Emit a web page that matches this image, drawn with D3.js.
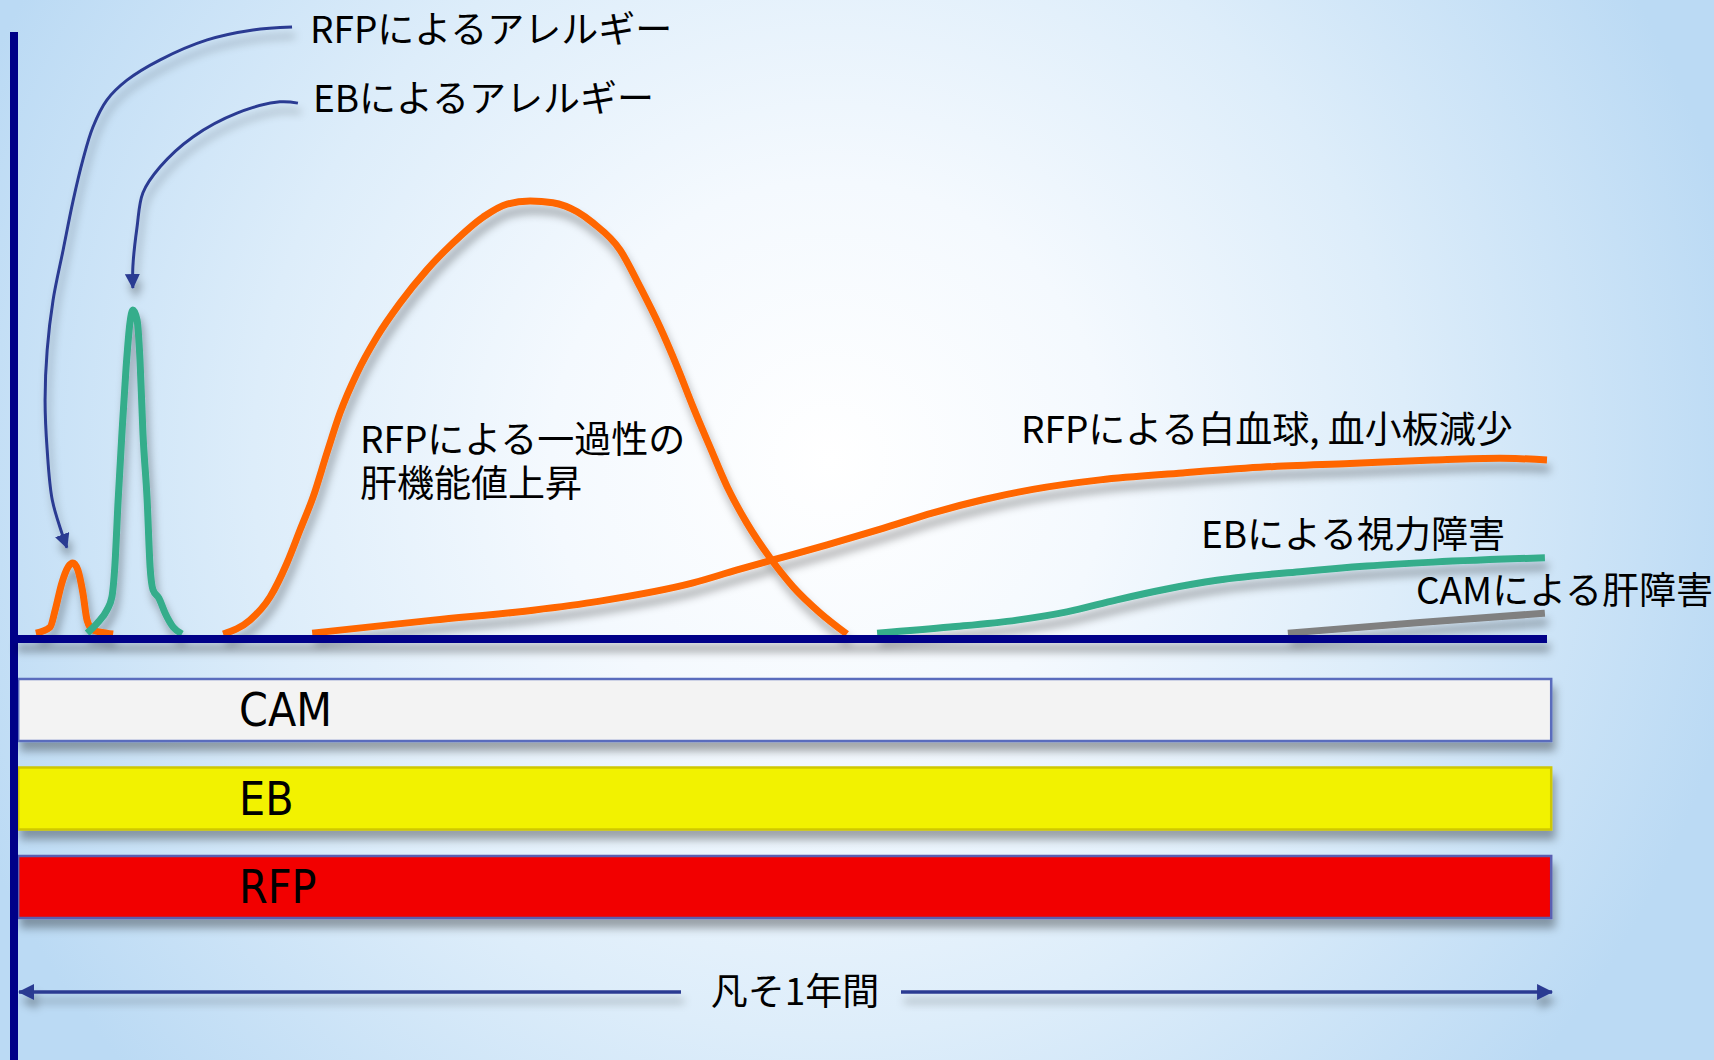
<!DOCTYPE html>
<html><head><meta charset="utf-8">
<script src="https://cdn.jsdelivr.net/npm/d3@7"></script>
<style>html,body{margin:0;padding:0;overflow:hidden;background:#fff}</style>
</head><body>
<svg id="chart" width="1714" height="1060"></svg>
<script>
// ---------------- DATA (time in days, relative intensity 0-100) ----------------
const drugs = ["CAM", "EB", "RFP"];
const treatmentStart = [1, 1, 1];
const treatmentEnd = [366, 366, 366];
const periodLabel = "凡そ1年間";
const periodStart = 1.2, periodEnd = 366.2, periodMid = 185;

const rfpAllergyDays  = [5.2, 8.6, 9.8, 11.4, 12.9, 14.0, 15.2, 16.4, 17.4, 18.8, 22.1, 23.6];
const rfpAllergyLevel = [0.2, 1.6, 5.5, 11.8, 15.5, 16.4, 14.8, 9.5, 3.2, 0.9, 0.2, 0];

const ebAllergyDays  = [17.4, 19.8, 22.1, 23.3, 24.0, 24.8, 25.7, 26.7, 27.6, 28.3, 29.3, 30.0, 30.7, 31.7, 32.4, 33.1, 34.5, 36.0, 37.9, 40.0];
const ebAllergyLevel = [0.2, 2.5, 5.5, 8.5, 15.5, 31.0, 46.4, 61.7, 71.8, 74.8, 72.5, 63.3, 46.4, 31.0, 15.5, 10.2, 8.3, 4.8, 1.6, 0];

const rfpLiverDays  = [49.8, 56.2, 61.0, 65.0, 68.1, 71.2, 74.5, 77.6, 81.7, 86.4, 91.9, 98.3, 104.5, 111.7, 117.4, 122.9, 128.3, 134.1, 137.9, 144.3, 149.1, 153.8, 157.9, 161.7, 165.7, 169.8, 174.5, 180.0, 185.5, 191.9, 198.3];
const rfpLiverLevel = [0, 3.2, 8.6, 16.4, 24.0, 31.6, 41.8, 51.0, 60.3, 68.6, 76.4, 84.1, 90.3, 96.3, 99.3, 100, 99.6, 97.5, 94.9, 88.7, 80.1, 70.9, 61.7, 52.4, 43.2, 34.0, 25.6, 17.6, 10.9, 4.9, 0];

const rfpBloodDays  = [71.0, 99.8, 123.6, 139.5, 161.7, 172.2, 180.7, 193.6, 206.9, 218.8, 230.7, 242.6, 258.6, 278.3, 298.3, 318.1, 337.9, 353.8, 365];
const rfpBloodLevel = [0.2, 3.2, 5.5, 7.6, 11.8, 14.8, 17.1, 20.6, 24.4, 28.0, 31.0, 33.4, 35.6, 37.2, 38.6, 39.4, 40.2, 40.6, 40.2];

const ebVisionDays  = [205.5, 222.9, 238.8, 250.7, 262.6, 274.5, 286.4, 306.2, 322.2, 337.9, 364.5];
const ebVisionLevel = [0.2, 1.6, 3.2, 5.1, 7.9, 10.4, 12.4, 14.4, 15.7, 16.6, 17.6];

const camLiverDays  = [303.3, 334.0, 364.5];
const camLiverLevel = [0.2, 2.6, 4.8];

// annotation leader paths (chart units)
const rfpAllergyLeaderDays  = [66.2, 56.9, 46.0, 34.8, 26.9, 22.1, 18.8, 16.4, 14.1, 11.7, 9.3, 7.9, 7.4, 7.9, 9.1, 11.4, 12.6];
const rfpAllergyLeaderLevel = [140.2, 139.5, 137.2, 132.6, 127.9, 123.3, 117.1, 109.5, 100.2, 88.7, 77.1, 65.6, 54.0, 42.5, 31.0, 23.3, 19.9];
const ebAllergyLeaderDays  = [67.6, 63.3, 53.1, 42.6, 34.8, 30.7, 29.3, 28.3, 28.3];
const ebAllergyLeaderLevel = [122.6, 122.9, 120.3, 114.8, 107.9, 101.9, 94.0, 84.8, 79.9];

const labels = [["RFPによるアレルギー"], ["EBによるアレルギー"], ["RFPによる一過性の", "肝機能値上昇"],
                ["RFPによる白血球, 血小板減少"], ["EBによる視力障害"], ["CAMによる肝障害"]];

// ---------------- DRAWING ----------------
const W = 1714, H = 1060;
const svg = d3.select("#chart");
const defs = svg.append("defs");

const bg = defs.append("radialGradient").attr("id", "bg").attr("gradientUnits", "userSpaceOnUse")
  .attr("cx", 830).attr("cy", 460).attr("r", 930);
[[0, "#ffffff"], [0.3, "#f4f9fe"], [0.62, "#ddedfa"], [1, "#bbdaf4"]]
  .forEach(([o, c]) => bg.append("stop").attr("offset", o).attr("stop-color", c));
svg.append("rect").attr("width", W).attr("height", H).attr("fill", "url(#bg)");

const filt = defs.append("filter").attr("id", "shadow").attr("filterUnits", "userSpaceOnUse")
  .attr("x", 0).attr("y", 0).attr("width", W).attr("height", H);
filt.append("feDropShadow").attr("dx", 3).attr("dy", 9).attr("stdDeviation", 4)
  .attr("flood-color", "#000").attr("flood-opacity", 0.33);

function marker(id, color, len, wid) {
  defs.append("marker").attr("id", id).attr("markerUnits", "userSpaceOnUse")
    .attr("viewBox", `0 ${-wid / 2} ${len} ${wid}`).attr("refX", len - 1).attr("refY", 0)
    .attr("markerWidth", len).attr("markerHeight", wid).attr("orient", "auto-start-reverse")
    .append("path").attr("d", `M0,${-wid / 2}L${len},0L0,${wid / 2}Z`).attr("fill", color);
}
marker("arrowLeader", "#2b3a92", 15, 15);
marker("arrowPeriod", "#2b3a92", 16, 16);

const x = d3.scaleLinear().domain([0, 365]).range([14, 1547]);
const y = d3.scaleLinear().domain([0, 100]).range([634, 201]);
const band = d3.scaleBand().domain(drugs).range([679, 918]).paddingInner(0.2994);

const barFill = { CAM: "#f3f3f3", EB: "#f2f200", RFP: "#f20000" };
const barStroke = { CAM: "#5a6cbd", EB: "#cfc800", RFP: "#5a5fb2" };

// bars
const barG = svg.append("g").attr("filter", "url(#shadow)");
barG.selectAll("rect").data(drugs).join("rect")
  .attr("x", (d, i) => x(treatmentStart[i]))
  .attr("width", (d, i) => x(treatmentEnd[i]) - x(treatmentStart[i]))
  .attr("y", d => band(d)).attr("height", band.bandwidth())
  .attr("fill", d => barFill[d]).attr("stroke", d => barStroke[d]).attr("stroke-width", 2.5);

svg.append("g").selectAll("text").data(drugs).join("text")
  .attr("x", x(0) + 225).attr("y", d => band(d) + band.bandwidth() / 2 + 16)
  .attr("font-family", "'DejaVu Sans Condensed','DejaVu Sans',sans-serif").attr("font-size", 46)
  .attr("fill", "#000").text(d => d);

// vertical axis
svg.append("line").attr("x1", x(0)).attr("x2", x(0)).attr("y1", 32).attr("y2", H)
  .attr("stroke", "#000088").attr("stroke-width", 8);

// curves
const line = d3.line().x(d => x(d[0])).y(d => y(d[1])).curve(d3.curveMonotoneX);
const zip = (a, b) => a.map((v, i) => [v, b[i]]);
const curves = [
  [zip(rfpAllergyDays, rfpAllergyLevel), "#ff6600"],
  [zip(rfpLiverDays, rfpLiverLevel), "#ff6600"],
  [zip(rfpBloodDays, rfpBloodLevel), "#ff6600"],
  [zip(ebVisionDays, ebVisionLevel), "#36ad8b"],
  [zip(camLiverDays, camLiverLevel), "#808080"],
  [zip(ebAllergyDays, ebAllergyLevel), "#36ad8b"]
];
const curveG = svg.append("g").attr("filter", "url(#shadow)");
curves.forEach(([pts, col]) => {
  curveG.append("path").attr("d", line(pts)).attr("fill", "none")
    .attr("stroke", col).attr("stroke-width", 7).attr("stroke-linejoin", "round");
});

// horizontal axis (baseline)
svg.append("line").attr("filter", "url(#shadow)")
  .attr("x1", x(0)).attr("x2", x(365)).attr("y1", y(0) + 5).attr("y2", y(0) + 5)
  .attr("stroke", "#000088").attr("stroke-width", 8);

// leaders
const leaderLine = d3.line().x(d => x(d[0])).y(d => y(d[1])).curve(d3.curveCatmullRom.alpha(0.5));
const leadG = svg.append("g").attr("filter", "url(#shadow)");
[[rfpAllergyLeaderDays, rfpAllergyLeaderLevel], [ebAllergyLeaderDays, ebAllergyLeaderLevel]].forEach(([a, b]) => {
  leadG.append("path").attr("d", leaderLine(zip(a, b))).attr("fill", "none")
    .attr("stroke", "#2b3a92").attr("stroke-width", 3).attr("marker-end", "url(#arrowLeader)");
});

// period arrow
const periodY = 992;
const gapHalf = 110;
leadG.append("line").attr("x1", x(periodStart)).attr("x2", x(periodMid) - gapHalf)
  .attr("y1", periodY).attr("y2", periodY).attr("stroke", "#2b3a92").attr("stroke-width", 3.4)
  .attr("marker-start", "url(#arrowPeriod)");
leadG.append("line").attr("x1", x(periodMid) + gapHalf).attr("x2", x(periodEnd))
  .attr("y1", periodY).attr("y2", periodY).attr("stroke", "#2b3a92").attr("stroke-width", 3.4)
  .attr("marker-end", "url(#arrowPeriod)");

// text labels
const labelPos = [[310, 43], [313, 112], [360, 453], [1021, 443], [1201, 548], [1416, 604]];
const lineGap = 44;
const tG = svg.append("g").attr("font-family", "'Noto Sans CJK JP','Noto Sans',sans-serif")
  .attr("font-size", 37).attr("fill", "#000");
labels.forEach((lines, i) => {
  const t = tG.append("text").attr("x", labelPos[i][0]).attr("y", labelPos[i][1]);
  lines.forEach((s, j) => t.append("tspan").attr("x", labelPos[i][0]).attr("dy", j === 0 ? 0 : lineGap).text(s));
});
tG.append("text").attr("x", x(periodMid) + 4).attr("y", 1005).attr("text-anchor", "middle").text(periodLabel);
</script>
</body></html>
